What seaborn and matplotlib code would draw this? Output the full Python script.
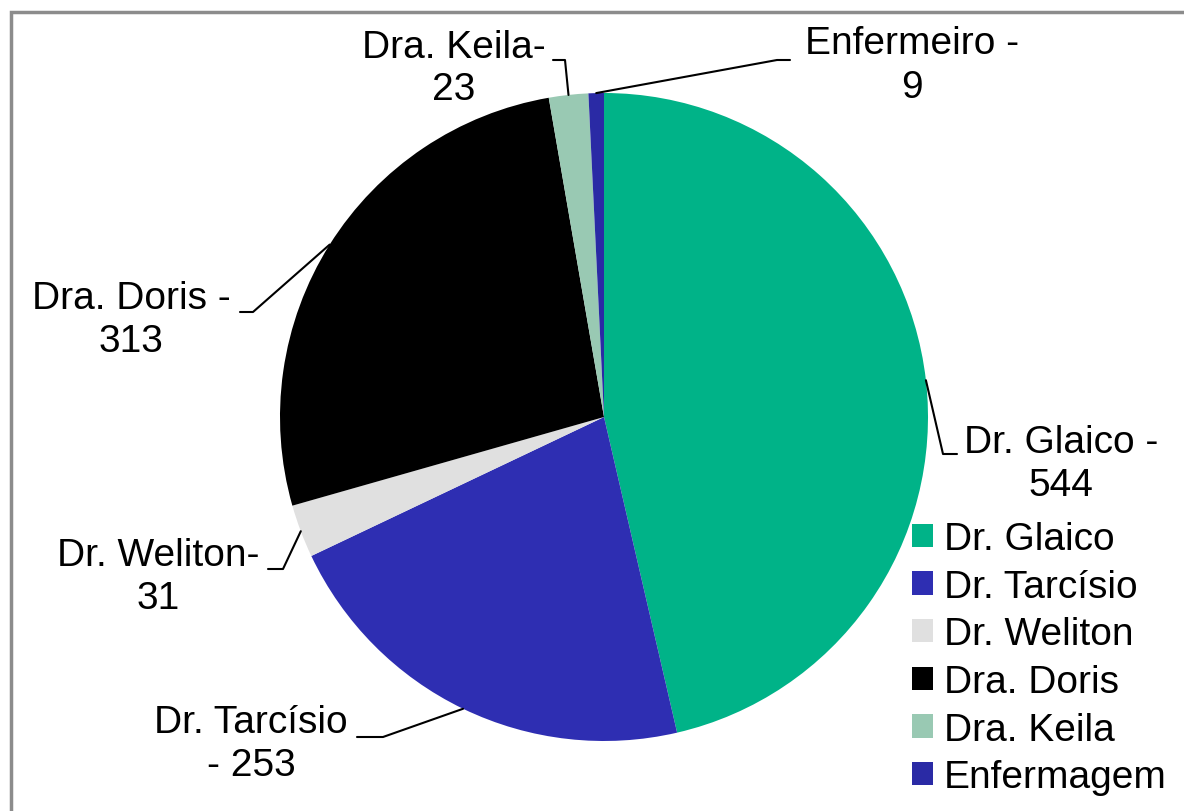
import numpy as np
import matplotlib
matplotlib.use('Agg')
import matplotlib.pyplot as plt
import seaborn as sns
from matplotlib.patches import Rectangle

# dados
nomes = ['Dr. Glaico', 'Dr. Tarcísio', 'Dr. Weliton', 'Dra. Doris', 'Dra. Keila', 'Enfermagem']
rotulos = ['Dr. Glaico -\n544', 'Dr. Tarcísio\n- 253', 'Dr. Weliton-\n31',
           'Dra. Doris -\n313', 'Dra. Keila-\n23', 'Enfermeiro -\n9']
valores = [544, 253, 31, 313, 23, 9]
cores = ['#00B388', '#2E2EB2', '#E0E0E0', '#000000', '#99C9B3', '#2A2AA5']

sns.set_theme(style='white', rc={'text.color': 'black'})
plt.rcParams['font.family'] = ['Liberation Sans', 'DejaVu Sans']

W, H = 1184, 812
fig = plt.figure(figsize=(W / 100, H / 100), dpi=100)
ax = fig.add_axes([0, 0, 1, 1])

cx, cy, r = 604, H - 418, 324
wedges, _ = ax.pie(valores, colors=cores, startangle=90, counterclock=False,
                   center=(cx, cy), radius=r, wedgeprops=dict(linewidth=0))

# posicao dos rotulos (pixels) e cotovelo das linhas
pos_txt = [(1061, 465), (251, 745), (158, 578), (131, 321), (454, 69), (912, 66)]
cotovelo = [((943, 455), (957, 455)), ((383, 738), (357, 738)), ((283, 570), (268, 570)),
            ((253, 313), (240, 313)), ((565, 61), (553, 61)), ((777, 61), (790, 61))]

for w, txt, (tx, ty), (e1, e2) in zip(wedges, rotulos, pos_txt, cotovelo):
    ang = np.deg2rad((w.theta1 + w.theta2) / 2)
    x0, y0 = cx + r * np.cos(ang), cy + r * np.sin(ang)
    ax.plot([x0, e1[0], e2[0]], [y0, H - e1[1], H - e2[1]], color='black', lw=1.5)
    ax.text(tx, H - ty, txt, ha='center', va='center', fontsize=28, linespacing=1.25,
            color='black')

ax.set_xlim(0, W)
ax.set_ylim(0, H)
ax.axis('off')

leg = ax.legend(wedges, nomes, loc='lower right', bbox_to_anchor=(1182 / W, 0),
                bbox_transform=fig.transFigure, frameon=False, fontsize=28,
                handlelength=0.55, handleheight=0.55, handletextpad=0.27, labelspacing=0.3,
                borderaxespad=0)
for t in leg.get_texts():
    t.set_color('black')

fig.patches.append(Rectangle((11 / W, -0.1), 1.2, 1.1 - 13 / H, transform=fig.transFigure,
                             fill=False, edgecolor='#8c8c8c', lw=2.5))

fig.savefig('out.png', dpi=100)
